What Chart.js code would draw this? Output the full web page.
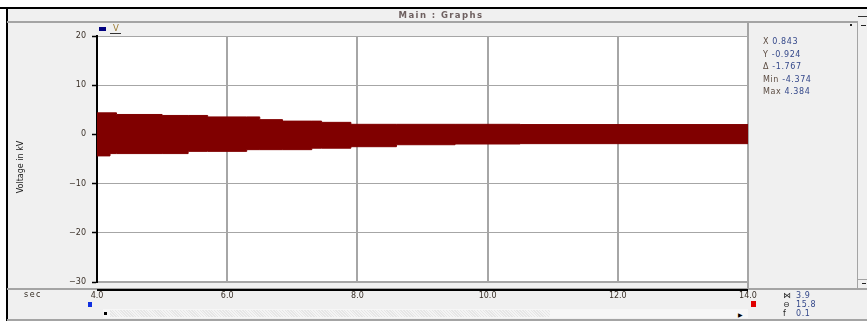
<!DOCTYPE html>
<html>
<head>
<meta charset="utf-8">
<script src="https://cdn.jsdelivr.net/npm/chart.js@4"></script>
<style>
  html, body { margin: 0; padding: 0; background: #fff; }
  #wrap { position: relative; width: 867px; height: 321px; overflow: hidden; background: #fff;
          font-family: "DejaVu Sans", sans-serif; }
  .box { position: absolute; }
  .txt { position: absolute; white-space: nowrap; font-size: 8px; line-height: 9px; }
  #plot { position: absolute; left: 0; top: 0; }
</style>
</head>
<body>
<div id="wrap">
  <!-- window panel and frame -->
  <div class="box" style="left:7px;top:8px;width:860px;height:311px;background:#f0f0f0"></div>
  <div class="box" style="left:0;top:7px;width:867px;height:2px;background:#000"></div>
  <div class="box" style="left:6px;top:7px;width:2px;height:314px;background:#000"></div>
  <div class="box" style="left:7px;top:21px;width:851px;height:2px;background:#a4a4a4"></div>
  <div class="box" style="left:7px;top:319px;width:860px;height:2px;background:#a4a4a4"></div>
  <div class="box" style="left:7px;top:288px;width:860px;height:2px;background:#a4a4a4"></div>
  <!-- readout panel divider and side scroll column -->
  <div class="box" style="left:747px;top:23px;width:2px;height:266px;background:#a4a4a4"></div>
  <div class="box" style="left:857px;top:23px;width:1px;height:266px;background:#a4a4a4"></div>
  <div class="box" style="left:858px;top:16px;width:9px;height:1px;background:#333"></div>
  <div class="box" style="left:858px;top:279px;width:9px;height:1px;background:#a4a4a4"></div>
  <div class="box" style="left:850px;top:24px;width:2px;height:2px;background:#222"></div>
  <div class="box" style="left:861px;top:25px;width:5px;height:1px;background:#222"></div>
  <div class="box" style="left:862px;top:283px;width:4px;height:1px;background:#222"></div>

  <canvas id="plot" width="867" height="321"></canvas>

  <!-- time window bar under the plot -->
  <div class="box" style="left:97px;top:289px;width:651px;height:2px;background:#000"></div>

  <!-- title bar -->
  <div class="txt" style="left:0;width:882px;top:11px;text-align:center;font-size:8.5px;font-weight:bold;letter-spacing:1.4px;color:#6e6060">Main : Graphs</div>

  <!-- legend -->
  <div class="box" style="left:99px;top:27px;width:7px;height:4px;background:#000080"></div>
  <div class="txt" style="left:113px;top:24px;font-size:8.5px;color:#9a7a30">V</div>
  <div class="box" style="left:110px;top:33px;width:11px;height:1px;background:#333"></div>

  <!-- y axis title -->
  <div class="txt" style="left:20px;top:167px;font-size:8px;color:#222;transform:translate(-50%,-50%) rotate(-90deg);transform-origin:center">Voltage in kV</div>

  <!-- bottom strip -->
  <div class="txt" style="left:24px;top:290px;font-size:8px;letter-spacing:1.5px;color:#332a20">sec</div>
  <div class="box" style="left:88px;top:302px;width:4px;height:5px;background:#1030e0"></div>
  <div class="box" style="left:751px;top:301px;width:5px;height:6px;background:#e00000"></div>
  <div class="box" style="left:103px;top:309px;width:645px;height:9px;background:#f6f6f6"></div>
  <div class="box" style="left:110px;top:310px;width:440px;height:7px;background:repeating-linear-gradient(45deg,#e6e6e6 0 1px,#f4f4f4 1px 2px)"></div>
  <div class="box" style="left:104px;top:312px;width:3px;height:3px;background:#000"></div>
  <div class="txt" style="left:738px;top:310px;font-size:6px;color:#000">▶</div>

  <div id="readout"></div>
  <div id="cursor"></div>
</div>

<script>
// Time axis (s) and the upper / lower envelope of the voltage trace (kV)
const timeSec = [4.0, 4.2, 4.3, 5.0, 5.4, 5.7, 6.3, 6.5, 6.85, 7.3, 7.45, 7.9, 8.6, 9.5, 10.5, 14.0];
const upperKV = [4.38, 4.38, 4.05, 3.85, 3.85, 3.55, 3.55, 3.0, 2.7, 2.7, 2.45, 2.05, 2.05, 2.05, 2.0, 2.0];
const lowerKV = [-4.37, -3.9, -3.9, -3.9, -3.45, -3.45, -3.1, -3.1, -3.1, -2.8, -2.8, -2.5, -2.1, -1.95, -1.88, -1.88];

// Axis ticks
const yTicksKV = [20, 10, 0, -10, -20, -30];
const xTicksSec = [4, 6, 8, 10, 12, 14];

// Cursor readouts shown beside and under the plot
const readoutNames = ['X', 'Y', 'Δ', 'Min', 'Max'];
const readoutValues = ['0.843', '-0.924', '-1.767', '-4.374', '4.384'];
const cursorNames = ['⋈', '⊖', 'f'];
const cursorValues = ['3.9', '15.8', '0.1'];

const readout = document.getElementById('readout');
readoutNames.forEach((n, i) => {
  const d = document.createElement('div');
  d.className = 'txt';
  d.style.left = '763px';
  d.style.top = (37 + i * 12.5) + 'px';
  d.style.letterSpacing = '0.6px';
  d.innerHTML = '<span style="color:#5a4a40">' + n + '</span> <span style="color:#34488a">' + readoutValues[i] + '</span>';
  readout.appendChild(d);
});
const cursor = document.getElementById('cursor');
cursorNames.forEach((n, i) => {
  const d = document.createElement('div');
  d.className = 'txt';
  d.style.left = '783px';
  d.style.top = (291 + i * 9) + 'px';
  d.style.letterSpacing = '0.6px';
  d.innerHTML = '<span style="color:#222;display:inline-block;width:13px">' + n + '</span><span style="color:#34488a">' + cursorValues[i] + '</span>';
  cursor.appendChild(d);
});

const plotBackground = {
  id: 'plotBackground',
  beforeDraw(chart) {
    const { ctx, chartArea: a } = chart;
    ctx.save();
    ctx.fillStyle = '#ffffff';
    ctx.fillRect(a.left, a.top, a.right - a.left, a.bottom - a.top);
    ctx.restore();
  }
};

const fmtKV = v => (v < 0 ? '\u2212' + Math.abs(v) : String(v));

new Chart(document.getElementById('plot'), {
  type: 'line',
  data: {
    datasets: [
      {
        label: 'V',
        data: timeSec.map((t, i) => ({ x: t, y: upperKV[i] })),
        borderColor: '#800000',
        backgroundColor: '#800000',
        borderWidth: 1,
        pointRadius: 0,
        stepped: true,
        fill: '+1'
      },
      {
        label: 'V (lower)',
        data: timeSec.map((t, i) => ({ x: t, y: lowerKV[i] })),
        borderColor: '#800000',
        borderWidth: 1,
        pointRadius: 0,
        stepped: true,
        fill: false
      }
    ]
  },
  options: {
    responsive: false,
    animation: false,
    events: [],
    layout: { padding: { left: 0, top: 36, right: 119, bottom: 0 } },
    plugins: { legend: { display: false }, tooltip: { enabled: false }, title: { display: false } },
    scales: {
      x: {
        type: 'linear',
        min: 4, max: 14,
        afterFit(scale) { scale.height = 39; },
        afterBuildTicks(scale) { scale.ticks = xTicksSec.map(v => ({ value: v })); },
        grid: { color: '#a6a6a6', lineWidth: 2, drawTicks: false },
        border: { display: true, color: '#a6a6a6', width: 1.5 },
        ticks: {
          padding: 9,
          maxRotation: 0,
          autoSkip: false,
          color: '#3a3028',
          font: { family: 'DejaVu Sans', size: 8 },
          callback: v => Number(v).toFixed(1)
        }
      },
      y: {
        min: -30, max: 20,
        afterFit(scale) { scale.width = 97; },
        afterBuildTicks(scale) { scale.ticks = yTicksKV.map(v => ({ value: v })); },
        grid: { color: '#a6a6a6', lineWidth: 1, tickColor: '#000', tickLength: 5, tickWidth: 1.5 },
        border: { display: true, color: '#000', width: 2 },
        ticks: {
          padding: 6,
          color: '#3a3028',
          font: { family: 'DejaVu Sans', size: 8 },
          callback: fmtKV
        }
      }
    }
  },
  plugins: [plotBackground]
});
</script>
</body>
</html>
